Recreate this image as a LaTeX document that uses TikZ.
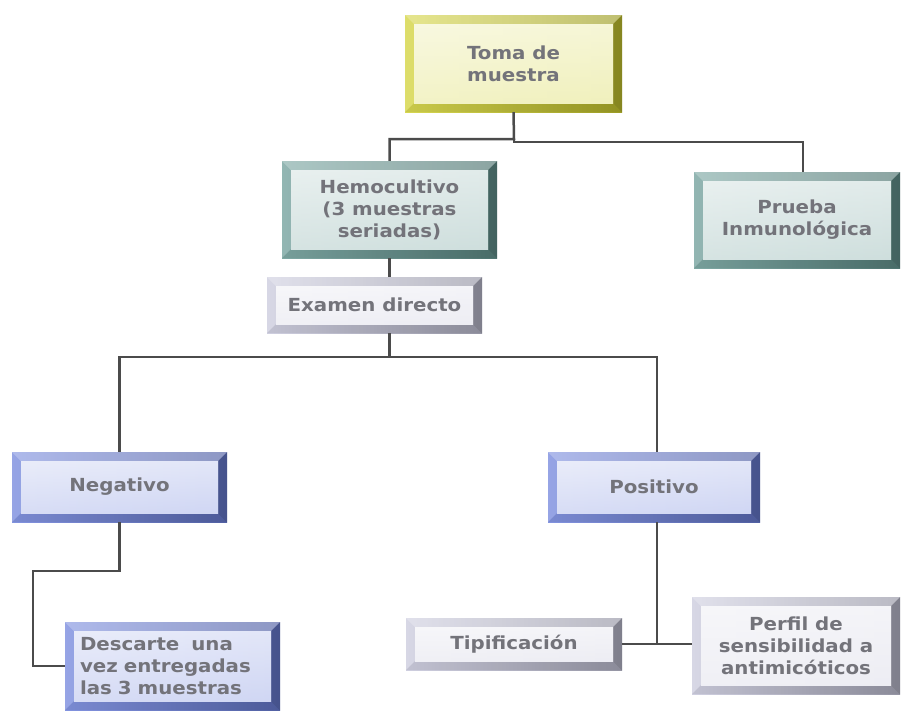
\documentclass[tikz,border=0pt]{standalone}
\usepackage{fontspec}
\setmainfont[FakeStretch=1.1]{DejaVu Sans}
\usetikzlibrary{calc}
\definecolor{ylw}{RGB}{210,210,50}
\definecolor{tealc}{RGB}{105,155,150}
\definecolor{blu}{RGB}{110,130,220}
\definecolor{lav}{RGB}{200,200,220}
\definecolor{txt}{RGB}{115,115,122}
\definecolor{conn}{RGB}{75,75,75}
\tikzset{
  bevbox/.style={fill=white, draw=none, inner sep=0pt, align=center, text=txt,
    font=\bfseries\fontsize{18pt}{22pt}\selectfont,
    path picture={
      \coordinate (@sw) at (path picture bounding box.south west);
      \coordinate (@ne) at (path picture bounding box.north east);
      \coordinate (@nw) at (path picture bounding box.north west);
      \coordinate (@se) at (path picture bounding box.south east);
      \coordinate (@isw) at ([shift={(9pt,9pt)}]@sw);
      \coordinate (@ine) at ([shift={(-9pt,-9pt)}]@ne);
      \coordinate (@inw) at ([shift={(9pt,-9pt)}]@nw);
      \coordinate (@ise) at ([shift={(-9pt,9pt)}]@se);
      \shade[left color=#1!85!white, right color=#1!75!black] (@sw) rectangle (@ne);
      \fill[white, opacity=.35] (@nw) -- (@ne) -- (@ine) -- (@inw) -- cycle;
      \fill[white, opacity=.15] (@nw) -- (@inw) -- (@isw) -- (@sw) -- cycle;
      \fill[black, opacity=.15] (@ne) -- (@se) -- (@ise) -- (@ine) -- cycle;
      \fill[black, opacity=.07] (@sw) -- (@isw) -- (@ise) -- (@se) -- cycle;
      \shade[left color=#1!30!white, middle color=white, right color=#1!40!white] (@isw) rectangle (@ine);
      \shade[top color=white, bottom color=#1!25!white, opacity=.5] (@isw) rectangle (@ine);
    }},
  link/.style={draw=conn, line width=2.5pt}
}
\begin{document}
\begin{tikzpicture}[x=1pt, y=-1pt]
\useasboundingbox (0,0) rectangle (901,713);
\node[bevbox=ylw, minimum width=217pt, minimum height=97pt] (toma) at (513.5,63.5) {Toma de\\muestra};
\node[bevbox=tealc, minimum width=215pt, minimum height=97pt] (hemo) at (389.5,209.5) {Hemocultivo\\(3 muestras\\seriadas)};
\node[bevbox=tealc, minimum width=206pt, minimum height=96pt] (prueba) at (797,220) {Prueba\\Inmunológica};
\node[bevbox=lav, minimum width=215pt, minimum height=56pt] (examen) at (374.5,305) {Examen directo};
\node[bevbox=blu, minimum width=215pt, minimum height=70pt] (neg) at (119.5,487) {Negativo};
\node[bevbox=blu, minimum width=212pt, minimum height=70pt] (pos) at (654,487) {Positivo};
\node[bevbox=blu, minimum width=215pt, minimum height=88pt, align=left, text width=185pt] (desc) at (172.5,666) {Descarte\ \ una\\vez entregadas\\las 3 muestras};
\node[bevbox=lav, minimum width=216pt, minimum height=52pt] (tip) at (514,644) {Tipificación};
\node[bevbox=lav, minimum width=208pt, minimum height=97pt] (perf) at (796,645.5) {Perfil de\\sensibilidad a\\antimicóticos};

\coordinate (j1) at (514,139);
\coordinate (j2) at (514,142);
\coordinate (j3) at (389.5,357);
\coordinate (j4) at (33,571);
\draw[link] (toma.south) -- (j1) -| (hemo.north);
\draw[link] (j1) -- (j2) -| ([xshift=6pt]prueba.north);
\draw[link] (hemo.south) -- (hemo.south |- examen.north);
\draw[link] (hemo.south |- examen.south) -- (j3) -| (neg.north);
\draw[link] (j3) -| ([xshift=3pt]pos.north);
\draw[link] (neg.south) |- (j4) |- (desc.west);
\draw[link] ([xshift=3pt]pos.south) -- ([xshift=3pt]pos.south |- tip.east);
\draw[link] (tip.east) -- (tip.east -| perf.west);
\end{tikzpicture}
\end{document}
